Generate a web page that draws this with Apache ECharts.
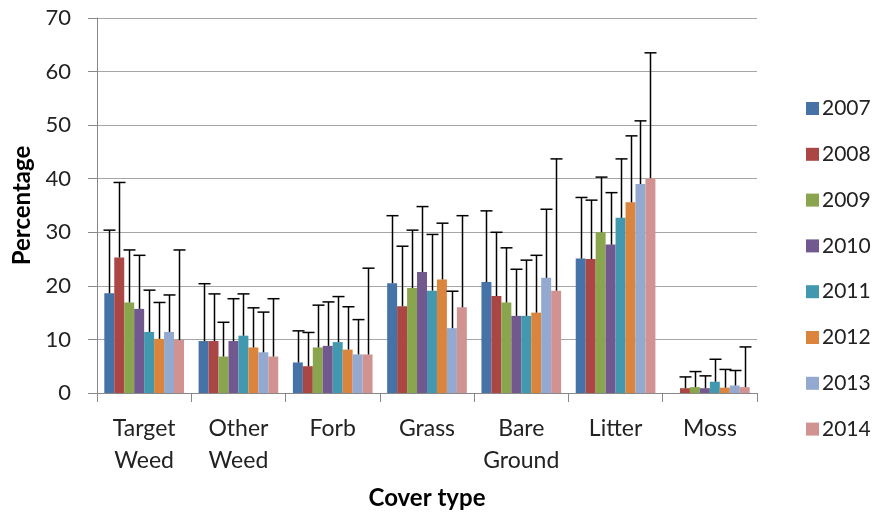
<!DOCTYPE html>
<html>
<head>
<meta charset="utf-8">
<script src="https://cdn.jsdelivr.net/npm/echarts@6/dist/echarts.min.js"></script>
<style>
html,body{margin:0;padding:0;background:#fff;}
#chart{width:873px;height:516px;}
</style>
</head>
<body>
<div id="chart"></div>
<script>
// ---- data ----
const categories = ['Target\nWeed', 'Other\nWeed', 'Forb', 'Grass', 'Bare\nGround', 'Litter', 'Moss'];
const years = ['2007', '2008', '2009', '2010', '2011', '2012', '2013', '2014'];
const yTicks = [0, 10, 20, 30, 40, 50, 60, 70];

const v2007 = [18.6, 9.7, 5.7, 20.5, 20.7, 25.1, 0];
const v2008 = [25.3, 9.7, 5.0, 16.2, 18.1, 25.0, 0.9];
const v2009 = [16.9, 6.8, 8.5, 19.6, 16.9, 30.0, 1.1];
const v2010 = [15.7, 9.7, 8.8, 22.6, 14.4, 27.7, 0.9];
const v2011 = [11.4, 10.7, 9.5, 19.1, 14.4, 32.7, 2.1];
const v2012 = [10.1, 8.5, 8.1, 21.2, 15.0, 35.6, 1.0];
const v2013 = [11.4, 7.6, 7.2, 12.1, 21.5, 39.0, 1.4];
const v2014 = [9.9, 6.8, 7.2, 16.0, 19.1, 40.1, 1.1];

const e2007 = [11.8, 10.7, 5.9, 12.6, 13.3, 11.4, null];
const e2008 = [14.0, 8.8, 6.3, 11.2, 11.9, 11.0, 2.1];
const e2009 = [9.8, 6.4, 7.9, 10.8, 10.2, 10.3, 2.9];
const e2010 = [10.0, 7.9, 8.2, 12.2, 8.7, 9.7, 2.3];
const e2011 = [7.8, 7.8, 8.5, 10.5, 10.4, 11.0, 4.2];
const e2012 = [6.8, 7.4, 8.0, 10.5, 10.7, 12.4, 3.4];
const e2013 = [6.9, 7.5, 6.5, 6.9, 12.8, 11.8, 2.8];
const e2014 = [16.8, 10.8, 16.1, 17.1, 24.6, 23.4, 7.5];

const values = [v2007, v2008, v2009, v2010, v2011, v2012, v2013, v2014];
const errors = [e2007, e2008, e2009, e2010, e2011, e2012, e2013, e2014];
const colors = ['#4572A7', '#AA4643', '#89A54E', '#71588F', '#4198AF', '#DB843D', '#93A9CF', '#D19392'];

// ---- chart ----
const FONT = 'Lato, Carlito, "Liberation Sans", sans-serif';
const gapFrac = 0.155;
const chart = echarts.init(document.getElementById('chart'), null, {renderer: 'canvas'});

const series = [];
years.forEach((y, i) => {
  series.push({
    name: y,
    type: 'bar',
    data: values[i],
    barGap: '0%',
    barCategoryGap: (gapFrac * 100) + '%',
    itemStyle: {color: colors[i]},
    z: 2
  });
});
years.forEach((y, i) => {
  series.push({
    name: 'err' + y,
    type: 'custom',
    z: 3,
    data: values[i].map((v, ci) => [ci, v, errors[i][ci]]),
    encode: {x: 0, y: 1},
    renderItem: function (params, api) {
      const ci = api.value(0), v = api.value(1), e = api.value(2);
      if (e === null || e === undefined || isNaN(e)) return null;
      const base = api.coord([ci, v]);
      const top = api.coord([ci, v + e]);
      const catW = api.size([1, 0])[0];
      const groupW = catW * (1 - gapFrac);
      const bw = groupW / years.length;
      const x = Math.round(base[0] - groupW / 2 + bw * (i + 0.5)) + 0.5;
      const st = {stroke: '#000', lineWidth: 1.5};
      return {
        type: 'group',
        children: [
          {type: 'line', shape: {x1: x, y1: base[1], x2: x, y2: top[1]}, style: st},
          {type: 'line', shape: {x1: x - 6, y1: top[1], x2: x + 6, y2: top[1]}, style: st}
        ]
      };
    }
  });
});

chart.setOption({
  animation: false,
  backgroundColor: '#fff',
  textStyle: {fontFamily: FONT},
  grid: {left: 97, right: 116, top: 18, bottom: 123},
  legend: {
    data: years,
    orient: 'vertical',
    left: 801,
    top: 93,
    icon: 'rect',
    itemWidth: 13,
    itemHeight: 13,
    itemGap: 24.8,
    textStyle: {fontFamily: FONT, fontSize: 21, color: '#222', lineHeight: 21, padding: [0, 0, 0, -2]}
  },
  xAxis: {
    type: 'category',
    data: categories,
    name: 'Cover type',
    nameLocation: 'middle',
    nameGap: 93,
    nameTextStyle: {fontFamily: FONT, fontSize: 24, fontWeight: 'bold', color: '#000'},
    axisLine: {lineStyle: {color: '#888', width: 1}},
    axisTick: {show: true, length: 9, lineStyle: {color: '#888'}},
    axisLabel: {fontFamily: FONT, fontSize: 23, color: '#222', lineHeight: 32, margin: 20, interval: 0}
  },
  yAxis: {
    type: 'value',
    min: yTicks[0],
    max: yTicks[yTicks.length - 1],
    interval: yTicks[1] - yTicks[0],
    name: 'Percentage',
    nameLocation: 'middle',
    nameGap: 62,
    nameTextStyle: {fontFamily: FONT, fontSize: 24, fontWeight: 'bold', color: '#000'},
    axisLine: {show: true, lineStyle: {color: '#888', width: 1}},
    axisTick: {show: true, length: 9, lineStyle: {color: '#888'}},
    axisLabel: {fontFamily: FONT, fontSize: 22, color: '#222', margin: 26},
    splitLine: {show: true, lineStyle: {color: '#a6a6a6', width: 1}}
  },
  series: series
});
</script>
</body>
</html>
